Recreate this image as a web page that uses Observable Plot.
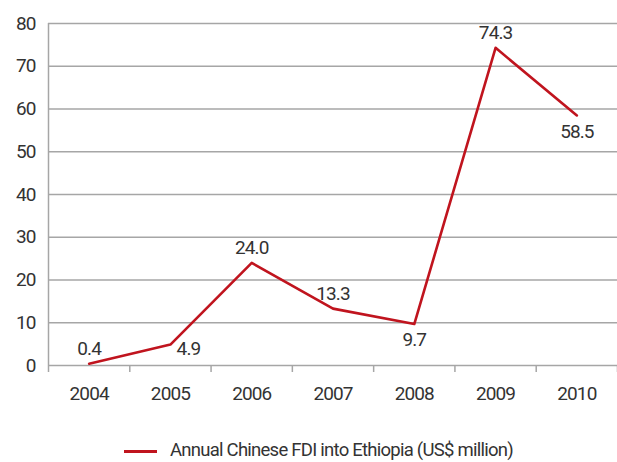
<!DOCTYPE html>
<html><head><meta charset="utf-8">
<script src="https://cdn.jsdelivr.net/npm/d3@7"></script>
<script src="https://cdn.jsdelivr.net/npm/@observablehq/plot@0.6"></script>
<style>
body{margin:0;background:#fff;font-family:Roboto,sans-serif;}
#legend{height:42px;position:relative;color:#333;font-size:18.5px;font-weight:400;letter-spacing:-0.75px;}
#legend .sw{position:absolute;left:124px;top:30px;width:33px;height:3px;background:#c0141e;}
#legend .tx{position:absolute;left:170px;top:19px;white-space:nowrap;}
svg text{font-weight:400;letter-spacing:-0.9px;}
</style></head>
<body><div id="chart"></div><div id="legend"><div class="sw"></div><div class="tx">Annual Chinese FDI into Ethiopia (US$ million)</div></div>
<script>
const years = [2004, 2005, 2006, 2007, 2008, 2009, 2010];
const fdi = [0.4, 4.9, 24.0, 13.3, 9.7, 74.3, 58.5];
const labelsBelow = [2008, 2010];
const yTicks = [0, 10, 20, 30, 40, 50, 60, 70, 80];

const data = years.map((y, i) => ({year: y, value: fdi[i]}));
const bounds = years.map(y => y - 0.5).concat([years[years.length - 1] + 0.5]);
const above = data.filter(d => !labelsBelow.includes(d.year) && d.year !== 2005);
const right = data.filter(d => d.year === 2005);
const below = data.filter(d => labelsBelow.includes(d.year));
const fmt = d3.format(".1f");
const font = 'Roboto,sans-serif';

const chart = Plot.plot({
  width: 617, height: 420,
  marginLeft: 48, marginRight: 0, marginTop: 23, marginBottom: 55,
  style: {fontFamily: font, fontSize: "19px", color: "#333", background: "#fff"},
  x: {domain: [bounds[0], bounds[bounds.length - 1]]},
  y: {domain: [0, 80]},
  marks: [
    Plot.ruleY(yTicks.slice(1), {stroke: "#a6a6a6", strokeWidth: 1.3}),
    Plot.ruleY([0], {stroke: "#a6a6a6", strokeWidth: 1.5}),
    Plot.ruleX([bounds[0]], {stroke: "#a6a6a6", strokeWidth: 1.5}),
    Plot.axisY({ticks: yTicks, tickSize: 0, tickPadding: 13, fontSize: 19, fill: "#333", label: null}),
    Plot.axisX({ticks: bounds, tickSize: 7, tickFormat: () => "", stroke: "#a6a6a6", strokeWidth: 1.5, label: null}),
    Plot.axisX({ticks: years, tickSize: 0, tickPadding: 21, tickFormat: d => String(d), fontSize: 19, fill: "#333", label: null}),
    Plot.line(data, {x: "year", y: "value", stroke: "#c0141e", strokeWidth: 2.6}),
    Plot.text(above, {x: "year", y: "value", text: d => fmt(d.value), dy: -15, fontSize: 19, fill: "#333"}),
    Plot.text(right, {x: "year", y: "value", text: d => fmt(d.value), dx: 18, dy: 4, fontSize: 19, fill: "#333"}),
    Plot.text(below, {x: "year", y: "value", text: d => fmt(d.value), dy: 16, fontSize: 19, fill: "#333"})
  ]
});
document.getElementById("chart").appendChild(chart);
</script></body></html>
